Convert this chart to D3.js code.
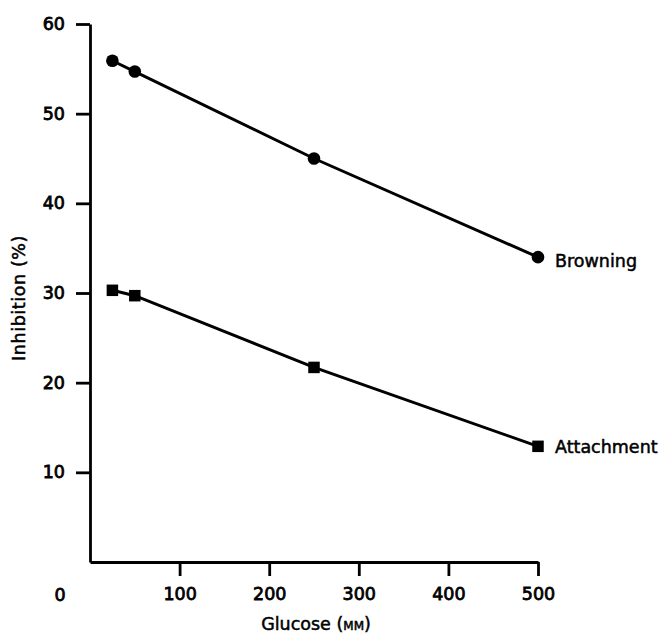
<!DOCTYPE html>
<html>
<head>
<meta charset="utf-8">
<script src="https://cdn.jsdelivr.net/npm/d3@7"></script>
<style>
  body { margin: 0; background: #fff; }
  text { font-family: "DejaVu Sans", sans-serif; fill: #000; stroke: #000; stroke-width: 0.5px; }
</style>
</head>
<body>
<div id="chart"></div>
<script>
const width = 660;
const height = 633;

// data
const glucose = [25, 50, 250, 500];
const browning = [55.9, 54.7, 45.0, 34.0];
const attachment = [30.3, 29.7, 21.7, 12.9];
const xTicks = [100, 200, 300, 400, 500];
const yTicks = [10, 20, 30, 40, 50, 60];

const svg = d3.select("#chart")
  .append("svg")
  .attr("width", width)
  .attr("height", height);

const x = d3.scaleLinear().domain([0, 500]).range([90, 538]);
const y = d3.scaleLinear().domain([0, 60]).range([562, 24]);

// axes
const xAxis = svg.append("g")
  .attr("transform", `translate(0,${y(0)})`)
  .call(d3.axisBottom(x).tickValues(xTicks).tickSize(14).tickSizeOuter(0).tickPadding(12));

const yAxis = svg.append("g")
  .attr("transform", `translate(${x(0)},0)`)
  .call(d3.axisLeft(y).tickValues(yTicks).tickSize(14).tickSizeOuter(0).tickPadding(11));

[xAxis, yAxis].forEach(g => {
  g.select(".domain").attr("stroke", "#000").attr("stroke-width", 2.8);
  g.selectAll(".tick line").attr("stroke", "#000").attr("stroke-width", 2.8);
  g.selectAll(".tick text")
    .attr("font-size", 17.5)
    .style("stroke-width", "0.8px");
});

// origin label
svg.append("text")
  .attr("x", 60)
  .attr("y", 601)
  .attr("text-anchor", "middle")
  .attr("font-size", 17.5)
  .style("stroke-width", "0.8px")
  .text("0");

// axis titles
const xt = svg.append("text")
  .attr("x", 316)
  .attr("y", 630)
  .attr("text-anchor", "middle")
  .attr("font-size", 17.5)
  .text("Glucose (");
xt.append("tspan").style("font-variant", "small-caps").text("mm");
xt.append("tspan").text(")");

svg.append("text")
  .attr("transform", "translate(25,298) rotate(-90)")
  .attr("text-anchor", "middle")
  .attr("font-size", 17.5)
  .attr("letter-spacing", 0.6)
  .text("Inhibition (%)");

// series
const line = d3.line()
  .x(d => x(d[0]))
  .y(d => y(d[1]));

const bData = glucose.map((g, i) => [g, browning[i]]);
const aData = glucose.map((g, i) => [g, attachment[i]]);

svg.append("path")
  .datum(bData)
  .attr("d", line)
  .attr("fill", "none")
  .attr("stroke", "#000")
  .attr("stroke-width", 3);

svg.append("path")
  .datum(aData)
  .attr("d", line)
  .attr("fill", "none")
  .attr("stroke", "#000")
  .attr("stroke-width", 3);

svg.selectAll(".dot")
  .data(bData)
  .enter().append("circle")
  .attr("class", "dot")
  .attr("cx", d => x(d[0]))
  .attr("cy", d => y(d[1]))
  .attr("r", 6.3)
  .attr("fill", "#000");

const sq = 11.5;
svg.selectAll(".sq")
  .data(aData)
  .enter().append("rect")
  .attr("class", "sq")
  .attr("x", d => x(d[0]) - sq / 2)
  .attr("y", d => y(d[1]) - sq / 2)
  .attr("width", sq)
  .attr("height", sq)
  .attr("fill", "#000");

// series labels
svg.append("text")
  .attr("x", x(500) + 17)
  .attr("y", y(browning[3]) + 10)
  .attr("font-size", 17.5)
  .text("Browning");

svg.append("text")
  .attr("x", x(500) + 17)
  .attr("y", y(attachment[3]) + 7)
  .attr("font-size", 17.5)
  .text("Attachment");
</script>
</body>
</html>
